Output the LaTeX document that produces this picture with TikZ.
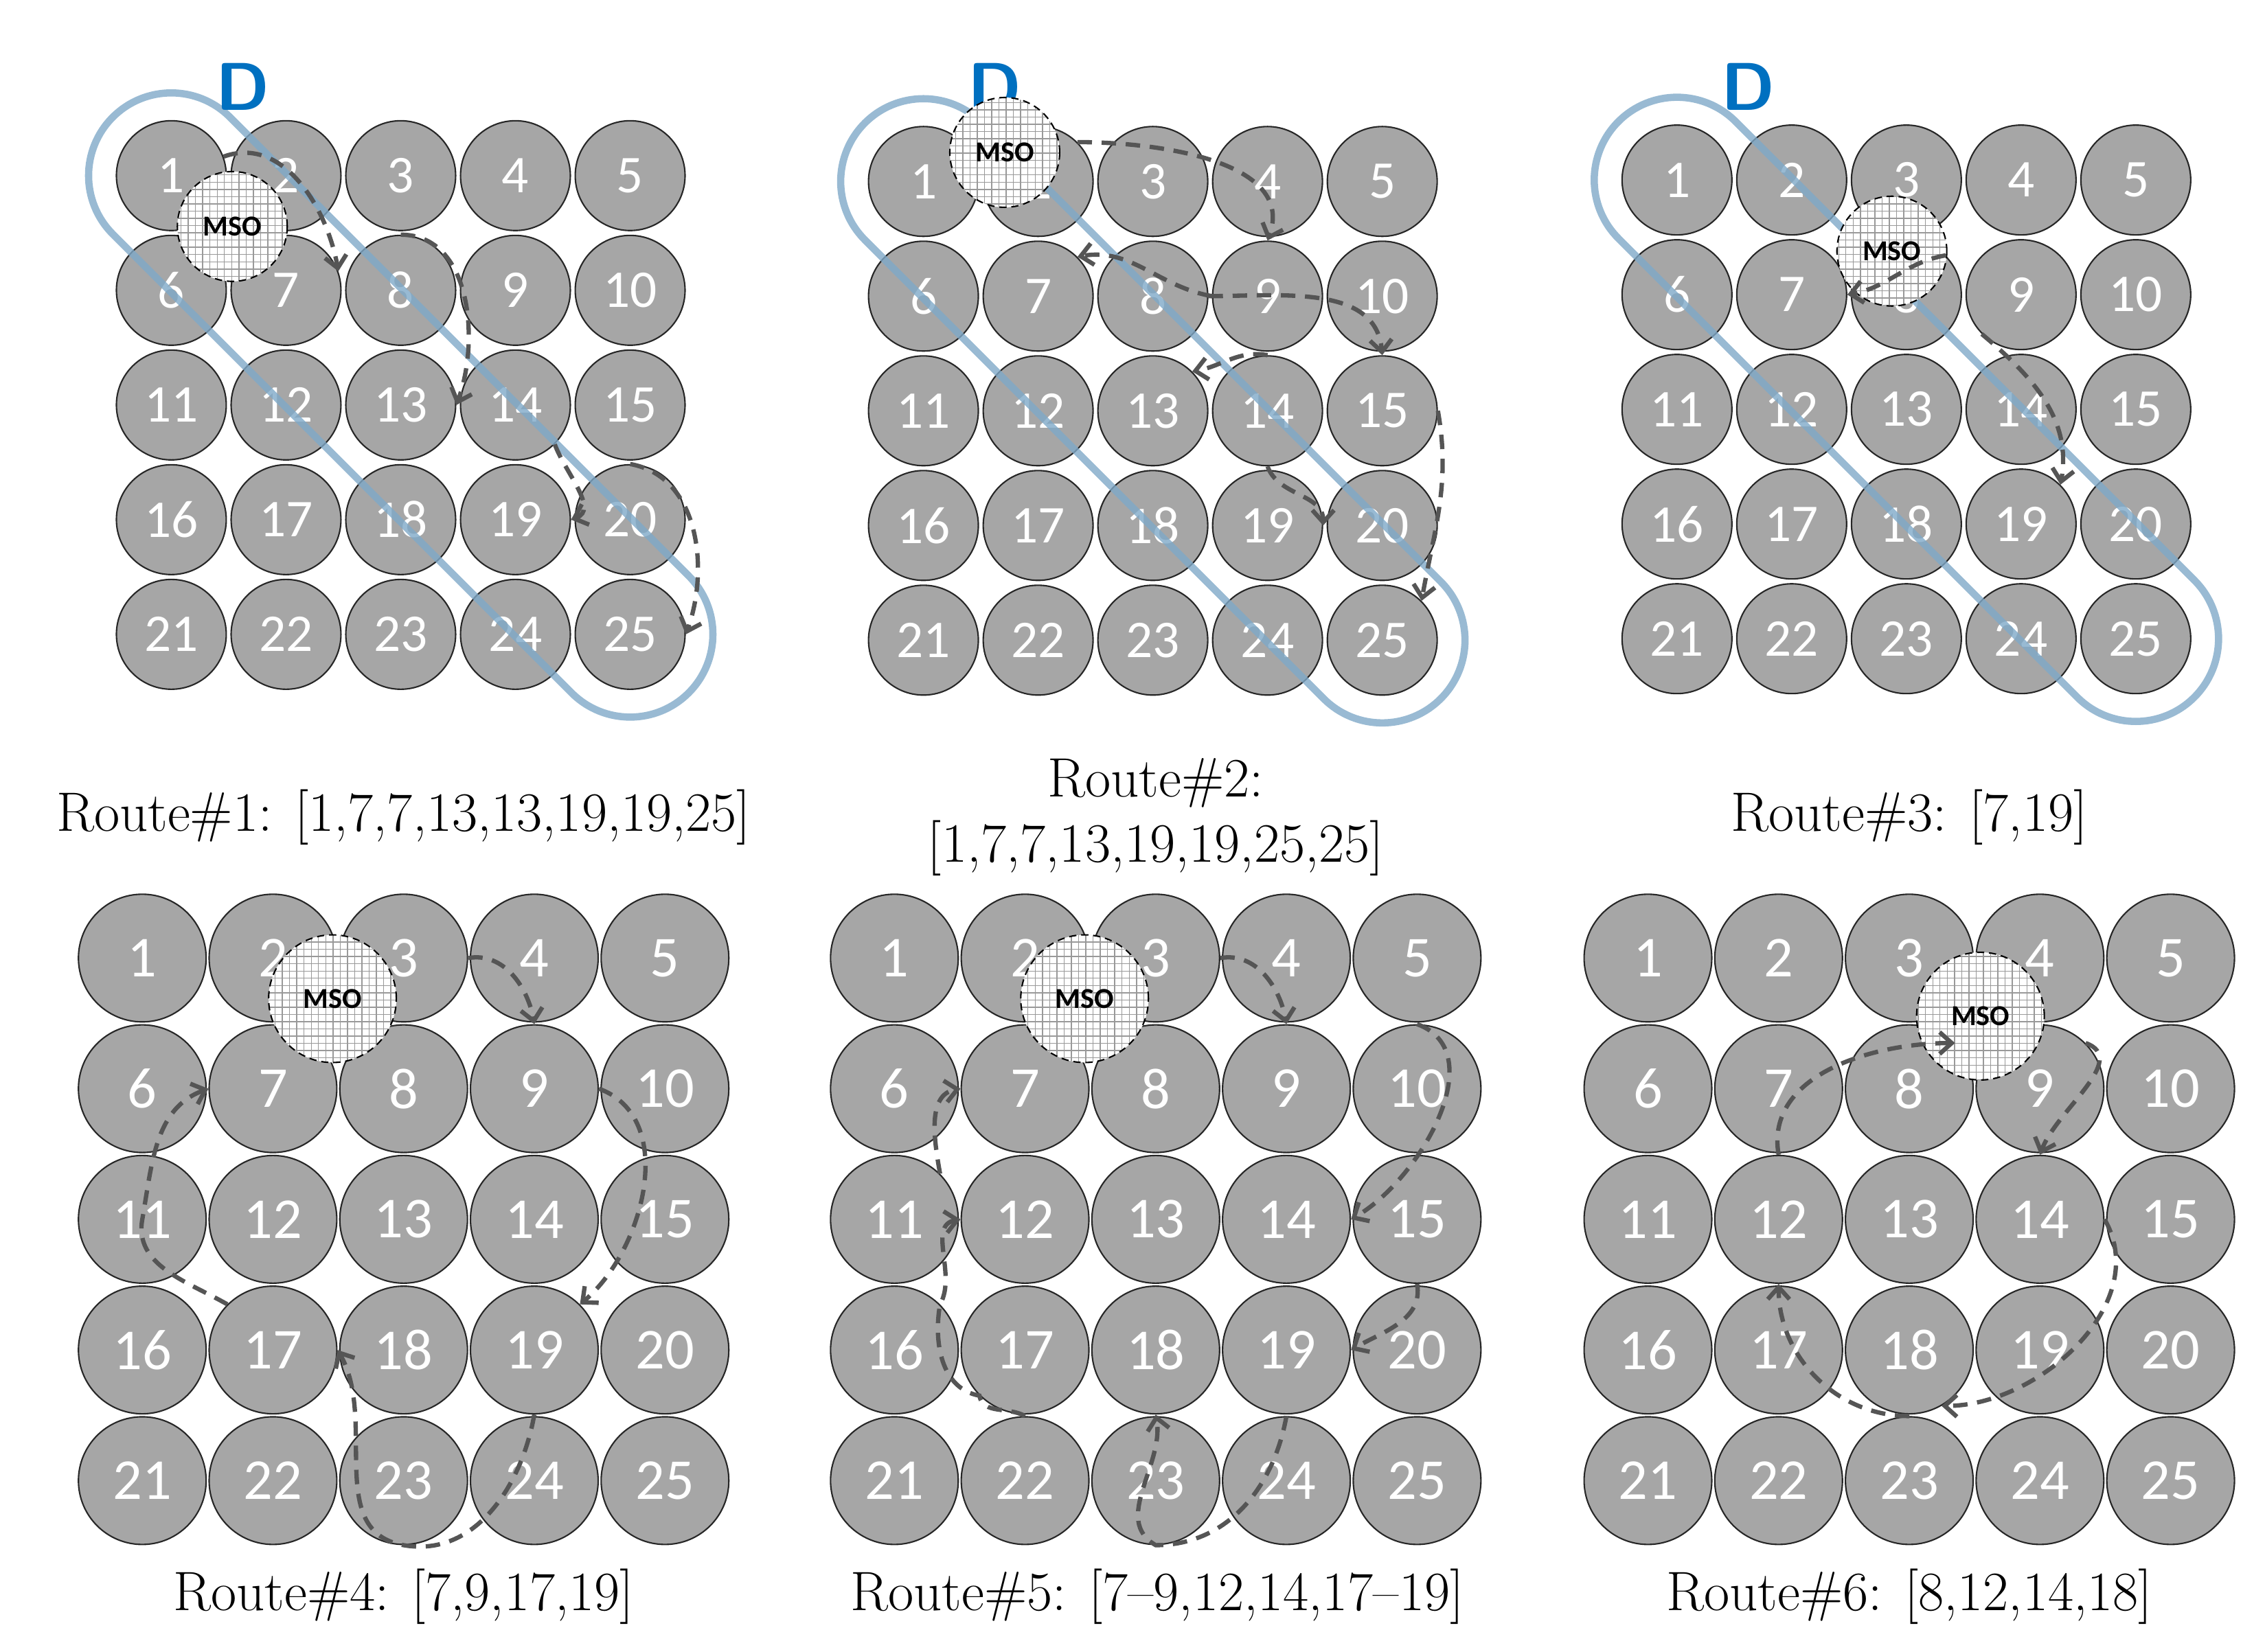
\documentclass[tikz,border=0pt]{standalone}
\usepackage{fontspec}
\usepackage{tikz}
\usetikzlibrary{arrows.meta, patterns}
\newfontfamily\numfont{Carlito}
\definecolor{ballgrey}{HTML}{A6A6A6}
\definecolor{capblue}{HTML}{7FA9C8}
\definecolor{dblue}{HTML}{0070C0}
\definecolor{routegrey}{HTML}{555555}
\tikzstyle{ball} = [circle, fill=ballgrey, draw=black!85, line width=0.6pt, text=white, inner sep=0pt]
\tikzstyle{mso} = [circle, draw=black, densely dashed, line width=0.6pt, inner sep=0pt, font=\numfont\bfseries\fontsize{12}{12}\selectfont, preaction={fill=white}, pattern=grid, pattern color=black!40]
\tikzstyle{capsule} = [draw=capblue, line width=3pt, opacity=0.8]
\tikzstyle{route} = [draw=routegrey, line width=1.8pt, dash pattern=on 6pt off 4pt, -{Straight Barb[length=5pt,width=9pt]}]
\tikzstyle{caption} = [font=\fontsize{23}{27}\selectfont, align=center]
\tikzstyle{dlabel} = [text=dblue, font=\sffamily\bfseries\fontsize{28}{28}\selectfont]
% prefix, x of ball 1, y of ball 1, spacing, size, font size
\newcommand\ballgrid[6]{%
  \foreach \r in {0,...,4} \foreach \c in {1,...,5} {
    \pgfmathtruncatemacro\n{5*\r+\c}
    \node[ball, minimum size=#5, font=\numfont\fontsize{#6}{#6}\selectfont] (#1\n) at ({#2+(\c-1)*#4},{#3+\r*#4}) {\n};
  }}
% x, y of ball 1
\newcommand\capsuleat[2]{%
  \draw[capsule] (#1+40.3,#2-40.3) -- (#1+356.3,#2+275.7) arc (-45:135:57) -- (#1-40.3,#2+40.3) arc (135:315:57) -- cycle;}
\begin{document}
\begin{tikzpicture}[x=0.021154cm, y=-0.021154cm]
\useasboundingbox (0,0) rectangle (1560,1137.6);
% top row
\ballgrid{a}{118}{121}{79}{1.6cm}{22}
\ballgrid{b}{636}{125}{79}{1.6cm}{22}
\ballgrid{c}{1155}{124}{79}{1.6cm}{22}
\capsuleat{118}{121}
\capsuleat{636}{125}
\capsuleat{1155}{124}
\node[dlabel] (da) at (167,60) {D};
\node[dlabel] (db) at (685,60) {D};
\node[dlabel] (dc) at (1204,60) {D};
\node[mso, minimum size=1.6cm] (ma) at (160,156) {MSO};
\node[mso, minimum size=1.6cm] (mb) at (692,105) {MSO};
\node[mso, minimum size=1.6cm] (mc) at (1303,173) {MSO};
% bottom row
\ballgrid{d}{98}{660}{90}{1.86cm}{24}
\ballgrid{e}{616}{660}{90}{1.86cm}{24}
\ballgrid{f}{1135}{660}{90}{1.86cm}{24}
\node[mso, minimum size=1.86cm] (md) at (229,688) {MSO};
\node[mso, minimum size=1.86cm] (me) at (747,688) {MSO};
\node[mso, minimum size=1.86cm] (mf) at (1364,700) {MSO};
% routes
\draw[route] (a1.20) to[out=20,in=100] (a7.20);
\draw[route] (a8.north) to[out=0,in=70] (a13.east);
\draw[route] (a14.south east) to[out=-70,in=20] (a19.east);
\draw[route] (a20.north) to[out=-10,in=70] (a25.east);
\draw[route] (b2.north east) to[out=0,in=70] (b9.north);
\draw[route] (b9.west) to[out=170,in=10] (b7.north east);
\draw[route] (b8.east) to[out=0,in=95] (b15.north);
\draw[route] (b14.north) to[out=170,in=10] (b13.north east);
\draw[route] (b14.south) to[out=-70,in=90] (b19.east);
\draw[route] (b15.east) to[out=-80,in=80] (b25.north east);
\draw[route] (c8.north east) to[out=190,in=10] (c7.east);
\draw[route] (c9.south west) to[out=-40,in=80] (c19.north east);
\draw[route] (d3.east) to[out=10,in=100] (d9.north);
\draw[route] (d9.east) to[out=-20,in=40] (d19.north east);
\draw[route] (d19.south) to[out=-100,in=-10] (d23.south) to[out=170,in=-60] (d17.east);
\draw[route] (d17.north west) to[out=150,in=-100] (d11.center) to[out=80,in=200] (d7.west);
\draw[route] (e3.east) to[out=10,in=100] (e9.north);
\draw[route] (e10.north) to[out=-20,in=30] (e14.east);
\draw[route] (e15.south) to[out=-80,in=30] (e19.east);
\draw[route] (e24.north) to[out=-100,in=0] (e23.south) to[out=150,in=-80] (e18.south);
\draw[route] (e22.north) to[out=150,in=-80] (e17.south west) to[out=170,in=-100] (e16.north east) to[out=60,in=190] (e12.west);
\draw[route] (e11.north east) to[out=100,in=190] (e7.west);
\draw[route] (f12.north) to[out=100,in=180] (f8.north east);
\draw[route] (f9.north east) to[out=-20,in=70] (f14.north);
\draw[route] (f14.east) to[out=-60,in=0] (f18.-60);
\draw[route] (f23.north) to[out=180,in=-90] (f12.south);
% captions
\node[caption] (ta) at (278,563) {Route\#1: [1,7,7,13,13,19,19,25]};
\node[caption] (tb) at (796,563) {Route\#2:\\{}[1,7,7,13,19,19,25,25]};
\node[caption] (tc) at (1315,563) {Route\#3: [7,19]};
\node[caption] (td) at (278,1100) {Route\#4: [7,9,17,19]};
\node[caption] (te) at (797,1100) {Route\#5: [7--9,12,14,17--19]};
\node[caption] (tf) at (1315,1100) {Route\#6: [8,12,14,18]};
\end{tikzpicture}
\end{document}
